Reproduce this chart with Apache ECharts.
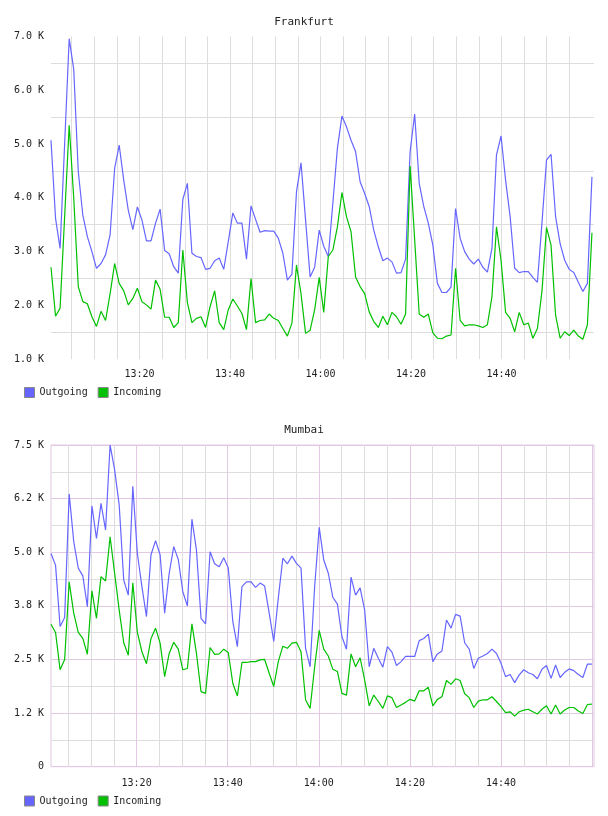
<!DOCTYPE html>
<html>
<head>
<meta charset="utf-8">
<script src="https://cdn.jsdelivr.net/npm/echarts@6/dist/echarts.min.js"></script>
<style>
  html, body { margin: 0; padding: 0; background: #fff; }
  #chart { width: 608px; height: 816px; }
</style>
</head>
<body>
<div id="chart"></div>
<script>
// values in K, one sample per minute
var frankfurtOut = [
  5.07, 3.62, 3.06, 5.00, 6.96, 6.39, 4.49, 3.68, 3.28, 3.00,
  2.69, 2.78, 2.94, 3.31, 4.55, 4.98, 4.33, 3.77, 3.41, 3.83,
  3.59, 3.20, 3.20, 3.53, 3.79, 3.02, 2.96, 2.72, 2.60, 3.97,
  4.27, 2.97, 2.91, 2.89, 2.67, 2.69, 2.83, 2.88, 2.67, 3.19,
  3.72, 3.53, 3.53, 2.86, 3.85, 3.60, 3.36, 3.39, 3.38, 3.38,
  3.25, 2.97, 2.47, 2.58, 4.11, 4.65, 3.59, 2.53, 2.71, 3.40,
  3.10, 2.91, 3.90, 4.92, 5.52, 5.32, 5.07, 4.86, 4.30, 4.08,
  3.84, 3.40, 3.09, 2.83, 2.88, 2.81, 2.60, 2.61, 2.86, 4.86,
  5.56, 4.27, 3.84, 3.53, 3.12, 2.41, 2.24, 2.24, 2.34, 3.80,
  3.25, 3.00, 2.86, 2.77, 2.86, 2.71, 2.62, 3.06, 4.80, 5.15,
  4.33, 3.65, 2.69, 2.61, 2.63, 2.63, 2.52, 2.43, 3.53, 4.70,
  4.81, 3.65, 3.15, 2.84, 2.67, 2.61, 2.43, 2.26, 2.41, 4.39
];
var frankfurtIn = [
  2.71, 1.80, 1.95, 3.65, 5.35, 4.00, 2.35, 2.07, 2.03, 1.79,
  1.61, 1.89, 1.72, 2.22, 2.78, 2.41, 2.27, 2.01, 2.13, 2.32,
  2.07, 2.01, 1.93, 2.47, 2.30, 1.78, 1.78, 1.59, 1.68, 3.03,
  2.05, 1.68, 1.76, 1.79, 1.59, 1.98, 2.27, 1.68, 1.55, 1.92,
  2.12, 1.99, 1.85, 1.55, 2.50, 1.68, 1.72, 1.73, 1.84, 1.76,
  1.72, 1.57, 1.43, 1.67, 2.75, 2.22, 1.48, 1.54, 1.92, 2.52,
  1.87, 2.91, 3.03, 3.46, 4.10, 3.65, 3.37, 2.53, 2.35, 2.22,
  1.88, 1.70, 1.59, 1.80, 1.64, 1.87, 1.79, 1.65, 1.84, 4.59,
  3.22, 1.84, 1.78, 1.84, 1.49, 1.39, 1.38, 1.43, 1.45, 2.69,
  1.72, 1.62, 1.64, 1.64, 1.62, 1.59, 1.64, 2.16, 3.46, 2.84,
  1.87, 1.76, 1.51, 1.87, 1.64, 1.67, 1.39, 1.57, 2.26, 3.45,
  3.12, 1.82, 1.39, 1.51, 1.44, 1.54, 1.43, 1.37, 1.64, 3.35
];
var mumbaiOut = [
  4.97, 4.70, 3.27, 3.48, 6.36, 5.25, 4.63, 4.45, 3.73, 6.08,
  5.32, 6.14, 5.52, 7.50, 6.92, 6.10, 4.35, 4.00, 6.54, 4.97,
  4.20, 3.50, 4.94, 5.27, 4.94, 3.58, 4.51, 5.13, 4.83, 4.08,
  3.75, 5.77, 5.05, 3.46, 3.33, 5.01, 4.73, 4.66, 4.87, 4.63,
  3.38, 2.80, 4.20, 4.31, 4.31, 4.18, 4.28, 4.21, 3.58, 2.92,
  3.93, 4.86, 4.73, 4.91, 4.74, 4.63, 2.76, 2.33, 4.20, 5.58,
  4.82, 4.51, 3.95, 3.79, 3.03, 2.74, 4.42, 4.00, 4.17, 3.65,
  2.33, 2.76, 2.53, 2.32, 2.80, 2.67, 2.36, 2.45, 2.57, 2.57,
  2.57, 2.94, 2.99, 3.09, 2.45, 2.63, 2.70, 3.42, 3.23, 3.55,
  3.51, 2.89, 2.74, 2.29, 2.53, 2.58, 2.64, 2.74, 2.64, 2.41,
  2.10, 2.15, 1.96, 2.14, 2.26, 2.19, 2.15, 2.05, 2.27, 2.36,
  2.06, 2.37, 2.08, 2.20, 2.28, 2.24, 2.15, 2.08, 2.39, 2.39
];
var mumbaiIn = [
  3.32, 3.13, 2.26, 2.50, 4.31, 3.58, 3.13, 2.99, 2.62, 4.10,
  3.46, 4.43, 4.33, 5.36, 4.51, 3.65, 2.89, 2.60, 4.29, 3.13,
  2.68, 2.40, 2.99, 3.23, 2.88, 2.10, 2.64, 2.90, 2.74, 2.26,
  2.29, 3.33, 2.64, 1.75, 1.71, 2.78, 2.62, 2.63, 2.74, 2.66,
  1.94, 1.65, 2.43, 2.43, 2.45, 2.45, 2.49, 2.50, 2.18, 1.87,
  2.45, 2.81, 2.76, 2.88, 2.90, 2.68, 1.56, 1.36, 2.33, 3.18,
  2.74, 2.58, 2.27, 2.22, 1.71, 1.67, 2.63, 2.33, 2.54, 2.02,
  1.42, 1.67, 1.52, 1.36, 1.65, 1.61, 1.38, 1.44, 1.50, 1.57,
  1.53, 1.77, 1.77, 1.85, 1.42, 1.57, 1.63, 2.01, 1.92, 2.05,
  2.01, 1.70, 1.61, 1.38, 1.53, 1.56, 1.56, 1.63, 1.52, 1.40,
  1.26, 1.28, 1.18, 1.28, 1.32, 1.34, 1.28, 1.23, 1.34, 1.42,
  1.23, 1.44, 1.23, 1.32, 1.38, 1.38, 1.30, 1.24, 1.45, 1.46
];

// minutes after 13:00 and their labels
var timeTicks = [20, 40, 60, 80, 100];
var timeLabels = ['13:20', '13:40', '14:00', '14:20', '14:40'];
var mumbaiTickLabels = ['0', '1.2 K', '2.5 K', '3.8 K', '5.0 K', '6.2 K', '7.5 K'];

var FONT = 'DejaVu Sans Mono';
var BLUE = '#6666ff';
var GREEN = '#00c000';
var GRAY = '#dddddd';
var PINK = '#e2c8e2';

function near(a, b) { return Math.abs(a - b) < 1e-6; }

function timeLabel(v) {
  for (var i = 0; i < timeTicks.length; i++) {
    if (near(v, timeTicks[i])) return timeLabels[i];
  }
  return '';
}

function toPairs(arr) {
  return arr.map(function (v, i) { return [i, v]; });
}

var labelStyle = { fontFamily: FONT, fontSize: 10, color: '#222' };

function dataX(grid) {
  return { gridIndex: grid, type: 'value', min: 0, max: 119.45, show: false };
}
function timeX(grid, colors, showMax, margin) {
  return {
    gridIndex: grid, type: 'value', min: 0, max: 120, interval: 5,
    axisLine: { show: false }, axisTick: { show: false },
    axisLabel: Object.assign({ margin: margin, formatter: timeLabel }, labelStyle),
    splitLine: { show: true, showMinLine: false, showMaxLine: showMax,
      lineStyle: { color: colors, width: 1 } }
  };
}
function hiddenY(grid, min, max) {
  return { gridIndex: grid, type: 'value', min: min, max: max, show: false };
}

function line(name, data, color, xi, yi) {
  return {
    name: name, type: 'line', xAxisIndex: xi, yAxisIndex: yi,
    data: toPairs(data), showSymbol: false, symbol: 'none',
    lineStyle: { color: color, width: 1.2 }, itemStyle: { color: color },
    emphasis: { disabled: true }, animation: false
  };
}

function legend(top) {
  return {
    left: 19, top: top, icon: 'rect', itemWidth: 10, itemHeight: 10,
    itemGap: 10, selectedMode: false, data: ['Outgoing', 'Incoming'],
    itemStyle: { borderColor: '#888', borderWidth: 1 },
    textStyle: labelStyle
  };
}

var chart = echarts.init(document.getElementById('chart'));
chart.setOption({
  backgroundColor: '#fff',
  animation: false,
  title: [
    { text: 'Frankfurt', left: 'center', top: 11.5,
      textStyle: { fontFamily: FONT, fontSize: 11, fontWeight: 'normal', color: '#222' } },
    { text: 'Mumbai', left: 'center', top: 420,
      textStyle: { fontFamily: FONT, fontSize: 11, fontWeight: 'normal', color: '#222' } }
  ],
  legend: [legend(382), legend(790.5)],
  grid: [
    { left: 51, top: 36.5, width: 543, height: 322.7 },
    { left: 49.1, top: 36.5, width: 542.8, height: 322.7 },
    { left: 51, top: 445, width: 543, height: 321.7, show: true,
      borderColor: PINK, borderWidth: 1, backgroundColor: 'transparent' },
    { left: 45.5, top: 445, width: 546.6, height: 321.7 }
  ],
  xAxis: [
    dataX(0),
    timeX(1, [GRAY], false, 10),
    dataX(2),
    timeX(3, [GRAY, GRAY, GRAY, PINK], true, 12)
  ],
  yAxis: [
    {
      gridIndex: 0, type: 'value', min: 1, max: 7, interval: 0.5,
      axisLine: { show: false }, axisTick: { show: false },
      axisLabel: Object.assign({ margin: 7, formatter: function (v) {
        return near(v, Math.round(v)) ? v.toFixed(1) + ' K' : '';
      } }, labelStyle),
      splitLine: { show: true, showMinLine: false, showMaxLine: false,
        lineStyle: { color: [GRAY, 'rgba(0,0,0,0)'], width: 1 } }
    },
    hiddenY(1, 1, 7),
    {
      gridIndex: 2, type: 'value', min: 0, max: 7.5, interval: 0.625,
      axisLine: { show: false }, axisTick: { show: false },
      axisLabel: Object.assign({ margin: 7, formatter: function (v) {
        var k = v / 1.25;
        return near(k, Math.round(k)) ? mumbaiTickLabels[Math.round(k)] : '';
      } }, labelStyle),
      splitLine: { show: true, lineStyle: { color: [PINK, GRAY], width: 1 } }
    },
    hiddenY(3, 0, 7.5)
  ],
  series: [
    line('Outgoing', frankfurtOut, BLUE, 0, 0),
    line('Incoming', frankfurtIn, GREEN, 0, 0),
    line('Outgoing', mumbaiOut, BLUE, 2, 2),
    line('Incoming', mumbaiIn, GREEN, 2, 2)
  ]
});
</script>
</body>
</html>
